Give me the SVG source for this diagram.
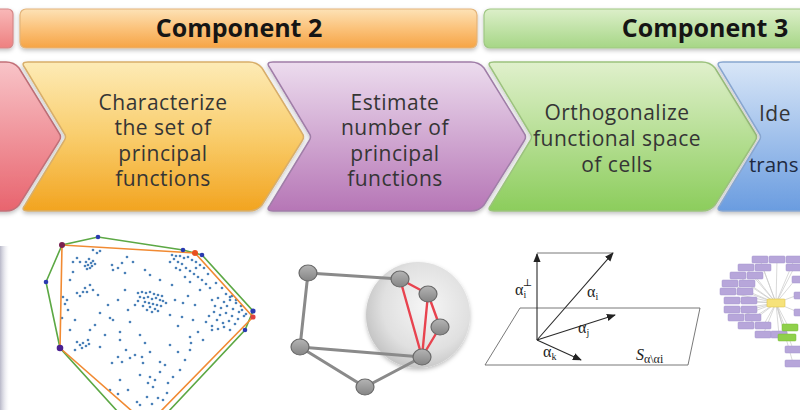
<svg xmlns="http://www.w3.org/2000/svg" width="800" height="410" viewBox="0 0 800 410">
<style>
.ban{font-family:"Open Sans","Liberation Sans",sans-serif;font-weight:bold;font-size:25px;fill:#151515;text-anchor:middle}
.lbl{font-family:"Open Sans","Liberation Sans",sans-serif;font-size:21px;letter-spacing:0.5px;fill:#353535;text-anchor:middle}
.m{font-family:"Liberation Serif","DejaVu Serif",serif;font-size:16px;fill:#222}
.ge{stroke:#8a8a8a;stroke-width:3;fill:none;stroke-linecap:round}
.re{stroke:#e8434f;stroke-width:2.4;fill:none;stroke-linecap:round}
.nd{fill:url(#gNode);stroke:#6a6a6a;stroke-width:1.2}
.pr{fill:#b7a6da;stroke:#a595cc;stroke-width:.5}
.ray{stroke:#c9c9c9;stroke-width:.7}
.vec{stroke:#2a2a2a;stroke-width:1.1;fill:none}
.pl{stroke:#6a6a6a;stroke-width:.9;fill:none}
</style>
<defs>
<linearGradient id="gBanO" x1="0" y1="0" x2="0" y2="1"><stop offset="0" stop-color="#fde2b6"/><stop offset="0.5" stop-color="#fbc27a"/><stop offset="1" stop-color="#f6a445"/></linearGradient>
<linearGradient id="gBanG" x1="0" y1="0" x2="0" y2="1"><stop offset="0" stop-color="#dcefc9"/><stop offset="1" stop-color="#a6d686"/></linearGradient>
<linearGradient id="gBanR" x1="0" y1="0" x2="0" y2="1"><stop offset="0" stop-color="#f8b8b8"/><stop offset="1" stop-color="#ee8080"/></linearGradient>
<linearGradient id="gR" x1="0" y1="0" x2="0" y2="1"><stop offset="0" stop-color="#f8c4c8"/><stop offset="1" stop-color="#e8646e"/></linearGradient>
<linearGradient id="gO" x1="0" y1="0" x2="0" y2="1"><stop offset="0" stop-color="#fdebb6"/><stop offset="0.5" stop-color="#f9cd6c"/><stop offset="1" stop-color="#f2a420"/></linearGradient>
<linearGradient id="gP" x1="0" y1="0" x2="0" y2="1"><stop offset="0" stop-color="#ecdcee"/><stop offset="1" stop-color="#b676b6"/></linearGradient>
<linearGradient id="gG" x1="0" y1="0" x2="0" y2="1"><stop offset="0" stop-color="#e0f0cc"/><stop offset="1" stop-color="#8ccd5c"/></linearGradient>
<linearGradient id="gB" x1="0" y1="0" x2="0" y2="1"><stop offset="0" stop-color="#d8e6f7"/><stop offset="1" stop-color="#6a9ce0"/></linearGradient>
<linearGradient id="gNode" x1="0" y1="0" x2="0" y2="1"><stop offset="0" stop-color="#b4b4b4"/><stop offset="1" stop-color="#858585"/></linearGradient>
<linearGradient id="gStrip" x1="0" y1="0" x2="1" y2="0"><stop offset="0" stop-color="#b8b8c8"/><stop offset="1" stop-color="#e8e8f0" stop-opacity="0"/></linearGradient>
<radialGradient id="gSph" cx="0.58" cy="0.42" r="0.6"><stop offset="0" stop-color="#f6f6f6"/><stop offset="0.7" stop-color="#e0e0e0"/><stop offset="1" stop-color="#c6c6c6"/></radialGradient>
<filter id="sh" x="-10%" y="-10%" width="120%" height="130%"><feDropShadow dx="0" dy="2" stdDeviation="2" flood-color="#000" flood-opacity="0.25"/></filter>
<marker id="ah" viewBox="0 0 10 10" refX="9" refY="5" markerWidth="9" markerHeight="9" markerUnits="userSpaceOnUse" orient="auto"><path d="M0,1 L10,5 L0,9 Z" fill="#222"/></marker>
</defs>
<rect width="800" height="410" fill="#ffffff"/>

<g id="banners" filter="url(#sh)">
<rect x="-10" y="9" width="23" height="39" rx="5" fill="url(#gBanR)" stroke="#d48888" stroke-width="1.2"/>
<rect x="20" y="9" width="457" height="39" rx="6" fill="url(#gBanO)" stroke="#e3b47a" stroke-width="1.2"/>
<rect x="484" y="9" width="330" height="39" rx="6" fill="url(#gBanG)" stroke="#9fc784" stroke-width="1.2"/>
</g>
<text class="ban" x="239" y="37">Component 2</text>
<text class="ban" x="705" y="37">Component 3</text>

<g id="step-red" filter="url(#sh)">
<path d="M-20,62 H6 Q14,62 19,68 L59,133 Q62,137 59,141 L19,205 Q14,211 6,211 H-20 Z" fill="url(#gR)" stroke="#c27078" stroke-width="1.5"/>
</g>
<g id="step-characterize">
<path filter="url(#sh)" d="M28,62 H249 Q257,62 262,68 L302,133 Q305,137 302,141 L262,205 Q257,211 249,211 H28 Q20,211 25,205 L64,141 Q67,137 64,133 L25,68 Q20,62 28,62 Z" fill="url(#gO)" stroke="#d8ae6a" stroke-width="1.5"/>
<text class="lbl" x="163" y="109.5">Characterize</text>
<text class="lbl" x="163" y="135">the set of</text>
<text class="lbl" x="163" y="160.5">principal</text>
<text class="lbl" x="163" y="186">functions</text>
</g>
<g id="step-estimate">
<path filter="url(#sh)" d="M273,62 H471 Q479,62 484,68 L524,133 Q527,137 524,141 L484,205 Q479,211 471,211 H273 Q265,211 270,205 L309,141 Q312,137 309,133 L270,68 Q265,62 273,62 Z" fill="url(#gP)" stroke="#a07ea8" stroke-width="1.5"/>
<text class="lbl" x="395" y="109.5">Estimate</text>
<text class="lbl" x="395" y="135">number of</text>
<text class="lbl" x="395" y="160.5">principal</text>
<text class="lbl" x="395" y="186">functions</text>
</g>
<g id="step-orthogonalize">
<path filter="url(#sh)" d="M494,62 H702 Q710,62 715,68 L755,133 Q758,137 755,141 L715,205 Q710,211 702,211 H494 Q486,211 491,205 L530,141 Q533,137 530,133 L491,68 Q486,62 494,62 Z" fill="url(#gG)" stroke="#9cc27e" stroke-width="1.5"/>
<text class="lbl" x="617" y="120">Orthogonalize</text>
<text class="lbl" x="617" y="146">functional space</text>
<text class="lbl" x="617" y="172">of cells</text>
</g>
<g id="step-identify">
<path filter="url(#sh)" d="M723,62 H830 V211 H723 Q715,211 720,205 L759,141 Q762,137 759,133 L720,68 Q715,62 723,62 Z" fill="url(#gB)" stroke="#88a6d0" stroke-width="1.5"/>
<text class="lbl" x="759" y="121" style="text-anchor:start">Ide</text>
<text class="lbl" x="749" y="172" style="text-anchor:start;letter-spacing:0;font-size:20.5px;fill:#1e2a40">trans</text>
</g>

<g id="hull-plot">
<rect x="0" y="246" width="9" height="164" fill="url(#gStrip)"/>
<path fill="none" stroke="#4a80b8" stroke-width="2.7" stroke-linecap="round" d="M86,262h0M89,259h0M91,263h0M88,265h0M92,266h0M90,268h0M85,266h0M93,261h0M95,264h0M87,269h0M73,262h0M80,262h0M73,272h0M77,258h0M112,265h0M113,270h0M122,263h0M127,257h0M125,273h0M145,270h0M118,268h0M133,262h0M93,250h0M100,251h0M97,253h0M90,285h0M93,290h0M87,292h0M83,292h0M77,293h0M70,280h0M98,295h0M85,288h0M80,296h0M63,297h0M67,300h0M65,304h0M138,293h0M142,292h0M146,293h0M150,292h0M154,294h0M158,295h0M140,297h0M144,298h0M148,297h0M152,299h0M156,298h0M160,300h0M163,301h0M166,303h0M145,302h0M149,303h0M153,304h0M157,305h0M161,306h0M150,307h0M155,309h0M158,311h0M143,306h0M138,301h0M147,310h0M152,312h0M162,296h0M135,305h0M110,318h0M113,320h0M95,325h0M120,332h0M120,340h0M140,335h0M145,343h0M100,313h0M130,322h0M128,310h0M118,300h0M108,305h0M125,290h0M170,315h0M175,300h0M172,285h0M160,280h0M150,275h0M183,303h0M195,305h0M193,320h0M182,317h0M188,296h0M178,326h0M212,300h0M218,298h0M224,302h0M230,300h0M236,303h0M241,306h0M242,310h0M246,314h0M215,306h0M221,308h0M227,306h0M233,309h0M239,312h0M244,316h0M214,312h0M220,315h0M226,313h0M232,316h0M238,319h0M217,320h0M223,323h0M229,321h0M235,324h0M212,326h0M218,329h0M224,327h0M230,330h0M232,296h0M236,300h0M226,294h0M209,316h0M206,322h0M172,255h0M176,256h0M180,256h0M184,258h0M188,257h0M192,260h0M196,262h0M200,265h0M204,268h0M174,259h0M178,262h0M182,264h0M186,268h0M190,271h0M194,274h0M198,277h0M202,280h0M206,284h0M180,270h0M185,277h0M176,268h0M196,268h0M170,262h0M208,274h0M210,288h0M200,290h0M190,282h0M222,288h0M230,297h0M216,283h0M190,337h0M191,343h0M190,350h0M203,340h0M212,330h0M198,332h0M77,342h0M80,345h0M83,343h0M86,346h0M89,344h0M82,348h0M100,347h0M75,350h0M88,340h0M118,357h0M122,362h0M130,358h0M112,363h0M142,357h0M143,363h0M160,362h0M165,365h0M135,355h0M126,350h0M150,352h0M170,345h0M178,352h0M150,377h0M155,380h0M153,387h0M148,383h0M173,377h0M168,383h0M160,372h0M140,375h0M167,393h0M158,398h0M147,397h0M137,402h0M140,405h0M110,390h0M118,394h0M152,404h0M163,400h0M120,380h0M128,390h0M180,370h0M185,360h0M62,318h0M70,330h0M68,310h0M75,320h0M105,335h0M90,330h0"/>
<polyline points="118,412 60,348 46,282 62,245 98,237 183,250 202,255 253,311 245,330 168,412" fill="none" stroke="#5ca844" stroke-width="1.6"/>
<polyline points="133,412 60,348 62,245 195,253 253,317 160,412" fill="none" stroke="#f18a32" stroke-width="1.6"/>
<circle cx="98" cy="237" r="2.3" fill="#2a3ab0"/>
<circle cx="46" cy="282" r="2.3" fill="#2a3ab0"/>
<circle cx="183" cy="250" r="2.3" fill="#2a3ab0"/>
<circle cx="202" cy="255" r="2.3" fill="#2a3ab0"/>
<circle cx="253" cy="311" r="2.6" fill="#2a3ab0"/>
<circle cx="245" cy="330" r="2.3" fill="#2a3ab0"/>
<circle cx="62" cy="245" r="3" fill="#7a2050"/>
<circle cx="195" cy="253" r="3" fill="#e8501e"/>
<circle cx="253" cy="317" r="2.6" fill="#e04040"/>
<circle cx="60" cy="348" r="3.3" fill="#4a2090"/>
</g>

<g id="graph">
<ellipse cx="418" cy="315" rx="52" ry="53" fill="url(#gSph)" filter="url(#sh)"/>
<g id="graph-edges">
<path class="ge" d="M308,273 L400,279 M308,273 L300,347 M300,347 L422,357 M300,347 L365,387 L422,357"/>
<path class="re" d="M400,279 L428,294 M400,279 L422,357 M428,294 L422,357 M428,294 L440,327 M440,327 L422,357"/>
</g>
<ellipse class="nd" cx="308" cy="273" rx="9" ry="8"/>
<ellipse class="nd" cx="400" cy="279" rx="9" ry="8"/>
<ellipse class="nd" cx="428" cy="294" rx="9" ry="8"/>
<ellipse class="nd" cx="440" cy="327" rx="9" ry="8"/>
<ellipse class="nd" cx="422" cy="357" rx="9" ry="8"/>
<ellipse class="nd" cx="300" cy="347" rx="9" ry="8"/>
<ellipse class="nd" cx="365" cy="387" rx="9" ry="8"/>
</g>

<g id="vectors">
<path class="pl" d="M520,308 L700,308 L688,365 L485,365 Z"/>
<path class="pl" d="M537,253 L613,253" stroke-width="0.8"/>
<line class="vec" x1="537" y1="340" x2="537" y2="254" marker-end="url(#ah)"/>
<line class="vec" x1="537" y1="340" x2="613" y2="253" marker-end="url(#ah)"/>
<line class="vec" x1="537" y1="340" x2="615" y2="315" marker-end="url(#ah)"/>
<line class="vec" x1="537" y1="340" x2="581" y2="360" marker-end="url(#ah)"/>
<text class="m" x="515" y="295">α<tspan dy="3" font-size="10">i</tspan><tspan dx="-3.5" dy="-12" font-size="10">⊥</tspan></text>
<text class="m" x="587" y="297">α<tspan dy="3" font-size="10">i</tspan></text>
<text class="m" x="578" y="333">α<tspan dy="3" font-size="10">j</tspan></text>
<text class="m" x="543" y="357">α<tspan dy="3" font-size="10">k</tspan></text>
<text class="m" x="636" y="360" font-size="19" font-style="italic">S<tspan dy="3" font-size="12" font-style="normal">α\αi</tspan></text>
</g>

<g id="network">
<g>
<line class="ray" x1="776" y1="303" x2="760" y2="260"/><line class="ray" x1="776" y1="303" x2="777" y2="260"/><line class="ray" x1="776" y1="303" x2="794" y2="260"/>
<line class="ray" x1="776" y1="303" x2="746" y2="268"/><line class="ray" x1="776" y1="303" x2="763" y2="268"/><line class="ray" x1="776" y1="303" x2="794" y2="268"/>
<line class="ray" x1="776" y1="303" x2="738" y2="276"/><line class="ray" x1="776" y1="303" x2="755" y2="276"/>
<line class="ray" x1="776" y1="303" x2="730" y2="284"/><line class="ray" x1="776" y1="303" x2="747" y2="284"/>
<line class="ray" x1="776" y1="303" x2="728" y2="292"/><line class="ray" x1="776" y1="303" x2="745" y2="292"/>
<line class="ray" x1="776" y1="303" x2="732" y2="301"/><line class="ray" x1="776" y1="303" x2="749" y2="301"/>
<line class="ray" x1="776" y1="303" x2="732" y2="310"/><line class="ray" x1="776" y1="303" x2="749" y2="310"/>
<line class="ray" x1="776" y1="303" x2="736" y2="318"/><line class="ray" x1="776" y1="303" x2="753" y2="318"/>
<line class="ray" x1="776" y1="303" x2="746" y2="326"/><line class="ray" x1="776" y1="303" x2="763" y2="326"/>
<line class="ray" x1="776" y1="303" x2="763" y2="335"/><line class="ray" x1="776" y1="303" x2="779" y2="335"/>
<line class="ray" x1="776" y1="303" x2="789" y2="328"/><line class="ray" x1="776" y1="303" x2="786" y2="338"/>
<line class="ray" x1="776" y1="303" x2="793" y2="349"/><line class="ray" x1="776" y1="303" x2="793" y2="363"/>
<line class="ray" x1="776" y1="303" x2="795" y2="280"/><line class="ray" x1="776" y1="303" x2="798" y2="295"/><line class="ray" x1="776" y1="303" x2="798" y2="312"/>
</g>
<rect class="pr" x="752" y="256" width="16" height="7" rx="1"/>
<rect class="pr" x="769" y="256" width="16" height="7" rx="1"/>
<rect class="pr" x="786" y="256" width="16" height="7" rx="1"/>
<rect class="pr" x="738" y="264" width="16" height="7" rx="1"/>
<rect class="pr" x="755" y="264" width="16" height="7" rx="1" fill="#cbbfe6"/>
<rect class="pr" x="786" y="264" width="16" height="7" rx="1"/>
<rect class="pr" x="730" y="272" width="16" height="7" rx="1"/>
<rect class="pr" x="747" y="272" width="16" height="7" rx="1"/>
<rect class="pr" x="722" y="280" width="16" height="7" rx="1"/>
<rect class="pr" x="739" y="280" width="16" height="7" rx="1"/>
<rect class="pr" x="720" y="288" width="16" height="7" rx="1"/>
<rect class="pr" x="737" y="288" width="16" height="7" rx="1"/>
<rect class="pr" x="724" y="297" width="16" height="7" rx="1"/>
<rect class="pr" x="741" y="297" width="16" height="7" rx="1"/>
<rect class="pr" x="724" y="306" width="16" height="7" rx="1"/>
<rect class="pr" x="741" y="306" width="16" height="7" rx="1"/>
<rect class="pr" x="728" y="314" width="16" height="7" rx="1"/>
<rect class="pr" x="745" y="314" width="16" height="7" rx="1"/>
<rect class="pr" x="738" y="322" width="16" height="7" rx="1"/>
<rect class="pr" x="755" y="322" width="16" height="7" rx="1"/>
<rect class="pr" x="755" y="331" width="16" height="7" rx="1"/>
<rect class="pr" x="771" y="331" width="16" height="7" rx="1"/>
<rect class="pr" x="785" y="346" width="16" height="7" rx="1"/>
<rect class="pr" x="785" y="360" width="16" height="7" rx="1"/>
<rect class="pr" x="792" y="276" width="16" height="7" rx="1" fill="#d2c8ea"/>
<rect class="pr" x="794" y="292" width="16" height="7" rx="1"/>
<rect class="pr" x="794" y="309" width="16" height="7" rx="1"/>
<rect x="782" y="324" width="16" height="7" rx="1" fill="#8fd04a" stroke="#78b83a" stroke-width=".5"/>
<rect x="778" y="334" width="18" height="7" rx="1" fill="#8fd04a" stroke="#78b83a" stroke-width=".5"/>
<rect x="767" y="299" width="18" height="8" rx="1" fill="#f6e27a" stroke="#e0c850" stroke-width=".6"/>
</g>
</svg>
